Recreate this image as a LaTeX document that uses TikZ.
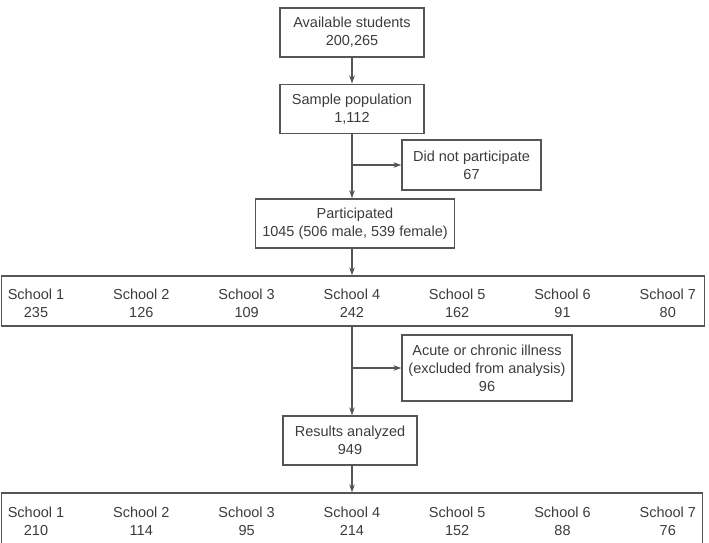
\documentclass[tikz,border=0pt]{standalone}
\usepackage{fontspec}
\setmainfont{Liberation Sans}
\usetikzlibrary{arrows.meta, positioning, calc}
\definecolor{ink}{HTML}{3C3C3C}
\definecolor{rule}{HTML}{555555}

\begin{document}
\begin{tikzpicture}[x=1pt, y=-1pt, >={Stealth[length=8pt, width=5.5pt]},
  box/.style={draw=rule, line width=1.3pt, text=ink, align=center, inner sep=0pt,
    font=\fontsize{14.5}{18}\selectfont},
  school/.style={text=ink, align=center, inner sep=0pt, font=\fontsize{14.5}{18}\selectfont},
  flow/.style={draw=rule, line width=1.3pt, ->}]
  \clip (0,0) rectangle (709,542);

  % main column
  \node[box, minimum width=144pt, minimum height=49pt] (avail) at (352,32.5) {Available students\\200,265};
  \node[box, minimum width=144pt, minimum height=49pt] (sample) at (352,108.7) {Sample population\\1,112};
  \node[box, minimum width=139pt, minimum height=50pt] (nopart) at (471.5,165) {Did not participate\\67};
  \node[box, minimum width=199pt, minimum height=49pt] (part) at (355,223.4) {Participated\\1045 (506 male, 539 female)};
  \node[box, minimum width=703pt, minimum height=50pt] (row1) at (353,301) {};
  \node[box, minimum width=170pt, minimum height=66pt] (acute) at (487,368) {Acute or chronic illness\\(excluded from analysis)\\96};
  \node[box, minimum width=134pt, minimum height=49pt] (result) at (350,440.5) {Results analyzed\\949};
  \node[box, minimum width=701pt, minimum height=62pt] (row2) at (352,524) {};

  % schools per row
  \foreach \i/\v in {1/235, 2/126, 3/109, 4/242, 5/162, 6/91, 7/80}
    \node[school] (a\i) at ({36+105.3*(\i-1)},303.5) {School \i\\\v};
  \foreach \i/\v in {1/210, 2/114, 3/95, 4/214, 5/152, 6/88, 7/76}
    \node[school] (b\i) at ({36+105.3*(\i-1)},521) {School \i\\\v};

  % connectors
  \coordinate (split1) at (sample.south |- nopart.west);
  \coordinate (split2) at (sample.south |- acute.west);
  \draw[flow] (avail.south) -- (sample.north);
  \draw[flow] (sample.south) -- (sample.south |- part.north);
  \draw[flow] (split1) -- (nopart.west);
  \draw[flow] (sample.south |- part.south) -- (sample.south |- row1.north);
  \draw[flow] (sample.south |- row1.south) -- (sample.south |- result.north);
  \draw[flow] (split2) -- (acute.west);
  \draw[flow] (result.south) -- (result.south -| sample.south) -- (sample.south |- row2.north);
\end{tikzpicture}
\end{document}
